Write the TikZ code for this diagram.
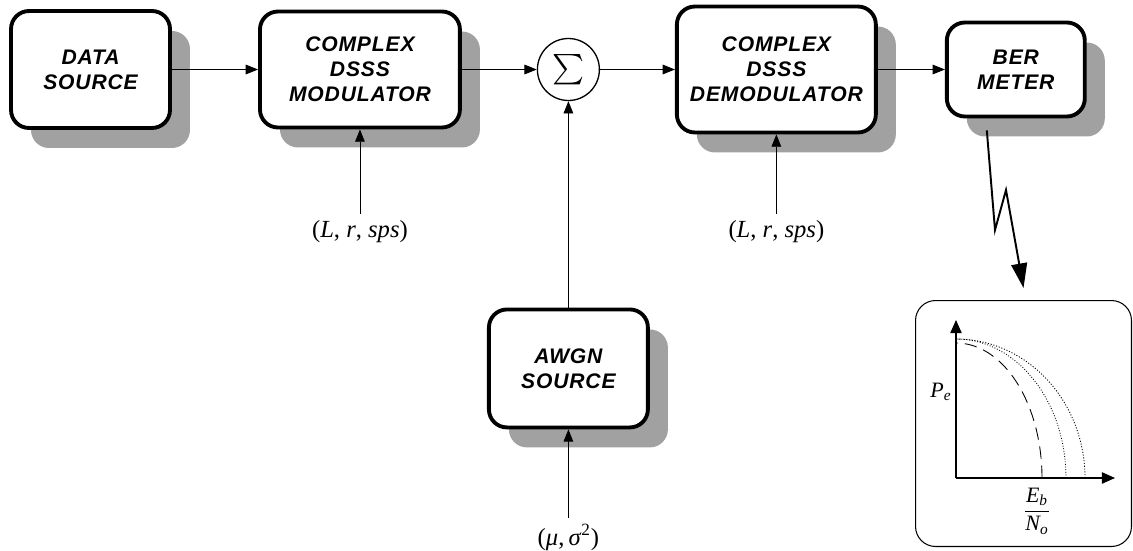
\documentclass[tikz,border=0pt]{standalone}
\usepackage{amsmath}
\usepackage{fontspec}
\setmainfont{Liberation Serif}
\newfontfamily\blockfont[LetterSpace=4]{Liberation Sans}
\usepackage{tikz}
\usetikzlibrary{shapes,arrows.meta,positioning,calc,shadows}

\tikzset{
  block/.style={draw, line width=2.2pt, rounded corners=0.36cm, fill=white, align=center,
    font=\blockfont\bfseries\itshape\fontsize{12}{14.2}\selectfont,
    drop shadow={shadow xshift=0.4cm, shadow yshift=-0.4cm, fill=black!37, opacity=1}},
  sig/.style={-{Triangle[length=7pt,width=5.5pt]}, line width=0.5pt},
  param/.style={font=\fontsize{14}{16}\selectfont},
  bolt/.style={-{Triangle[length=14pt,width=9pt]}, line width=1.1pt},
  axis/.style={-{Triangle[length=7.5pt,width=6.5pt]}, line width=0.75pt}
}

\begin{document}
\begin{tikzpicture}[x=0.02cm, y=-0.02cm, node distance=4cm]
\useasboundingbox (0,0) rectangle (1133,551);
% main chain
\node[block, minimum width=3.18cm, minimum height=2.34cm] (src) at (90.5,69.5) {DATA\\SOURCE};
\node[block, right of=src, node distance=5.39cm, minimum width=4cm, minimum height=2.32cm] (mod) {COMPLEX\\DSSS\\MODULATOR};
\node[draw, circle, line width=0.75pt, minimum size=1.24cm, inner sep=0pt, right of=mod, node distance=4.17cm] (sum) {\fontsize{19}{19}\selectfont$\sum$};
\node[block, right of=sum, node distance=4.16cm, minimum width=3.98cm, minimum height=2.52cm] (dem) {COMPLEX\\DSSS\\DEMODULATOR};
\node[block, right of=dem, node distance=4.79cm, minimum width=2.76cm, minimum height=1.88cm] (ber) {BER\\METER};
\node[block, below of=sum, node distance=5.98cm, minimum width=3.18cm, minimum height=2.36cm] (awgn) {AWGN\\SOURCE};

% parameters
\node[param, below of=mod, node distance=3.24cm] (modp) {(\textit{L}, \textit{r}, \textit{sps})};
\node[param, below of=dem, node distance=3.24cm] (demp) {(\textit{L}, \textit{r}, \textit{sps})};
\node[param, below of=awgn, node distance=3.38cm] (noise) {(\textit{μ},\,\textit{σ}\textsuperscript{2})};

\draw[sig] (src) -- (mod);
\draw[sig] (mod) -- (sum);
\draw[sig] (sum) -- (dem);
\draw[sig] (dem) -- (ber);
\draw[sig] (awgn) -- (sum);
\draw[sig] (modp) -- (mod);
\draw[sig] (demp) -- (dem);
\draw[sig] (noise) -- (awgn);

% BER curves
\node[draw, rounded corners=0.4cm, line width=0.6pt, minimum width=4.32cm, minimum height=4.92cm] (plot) at (1023.5,423.5) {};
\coordinate (z1) at ($(ber.south)+(-29,12)$);
\coordinate (z2) at (995,230);
\coordinate (z3) at (1006,190);
\draw[bolt] (z1) -- (z2) -- (z3) -- ([yshift=0.24cm]plot.north);

\coordinate (o) at (956,478);
\coordinate (yt) at (956,320);
\coordinate (xt) at (1115,478);
\draw[axis] (o) -- (yt);
\draw[axis] (o) -- (xt);
\draw[line width=0.5pt, dash pattern=on 7pt off 4pt] plot[domain=0:90, samples=50, smooth] ({956+86*cos(\x)}, {478-135*sin(\x)});
\draw[line width=0.5pt, densely dotted] plot[domain=0:90, samples=50, smooth] ({956+110*cos(\x)}, {478-139*sin(\x)});
\draw[line width=0.5pt, dash pattern=on 0.6pt off 1pt] plot[domain=0:90, samples=50, smooth] ({956+129*cos(\x)}, {478-139*sin(\x)});
\node[font=\fontsize{12.5}{14}\selectfont] (pe) at (941,392) {\textit{P}\textsubscript{\textit{e}}};
\node[font=\fontsize{12.5}{14}\selectfont] (snr) at (1037,511) {$\dfrac{\textit{E}_{\textit{b}}}{\textit{N}_{\textit{o}}}$};
\end{tikzpicture}
\end{document}
